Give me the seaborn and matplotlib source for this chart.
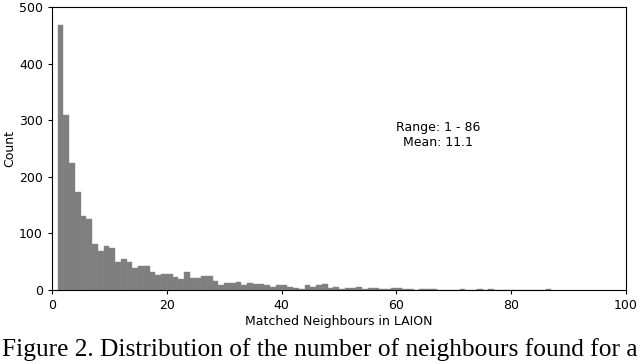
import matplotlib
matplotlib.use('Agg')
import matplotlib.pyplot as plt
import seaborn as sns
import pandas as pd

# number of matched neighbours (1..86) and how many queries had that many
neighbours = list(range(1, 87))
counts = [468, 309, 224, 173, 130, 126, 82, 69, 78, 74,
          49, 55, 49, 39, 42, 42, 32, 26, 28, 28,
          23, 19, 32, 21, 21, 24, 24, 16, 8, 12,
          12, 14, 8, 12, 11, 11, 8, 6, 8, 8,
          6, 4, 2, 9, 6, 8, 11, 4, 6, 1,
          3, 3, 5, 2, 4, 4, 2, 2, 3, 3,
          2, 2, 0, 2, 2, 2, 0, 0, 0, 0,
          2, 0, 0, 2, 0, 2, 0, 0, 0, 0,
          0, 0, 0, 0, 0, 1]

df = pd.DataFrame({'n': neighbours, 'count': counts})

plt.rcParams['font.family'] = ['DejaVu Sans']
fig = plt.figure(figsize=(6.4, 3.64), dpi=100)
ax = fig.add_axes([52 / 640, 1 - 290 / 364, 574 / 640, 283 / 364])

sns.histplot(data=df, x='n', weights='count', binwidth=1, binrange=(1, 87),
             color='#7f7f7f', alpha=1, edgecolor='#878787', linewidth=0.3, ax=ax)

ax.set_xlim(0, 100)
ax.set_ylim(0, 500)
ax.set_xticks([0, 20, 40, 60, 80, 100])
ax.set_yticks([0, 100, 200, 300, 400, 500])
ax.tick_params(labelsize=9, length=3)
ax.set_xlabel('Matched Neighbours in LAION', fontsize=9, labelpad=2)
ax.set_ylabel('Count', fontsize=9, labelpad=2)

ax.text(67.2, 273, 'Range: 1 - 86\nMean: 11.1', fontsize=9,
        ha='center', va='center', multialignment='center')

fig.text(0.5, 1 - 350 / 364, 'Figure 2. Distribution of the number of neighbours found for a',
         family=['Liberation Serif'], fontsize=18.3, ha='center', va='center')

fig.savefig('out.png', dpi=100)
